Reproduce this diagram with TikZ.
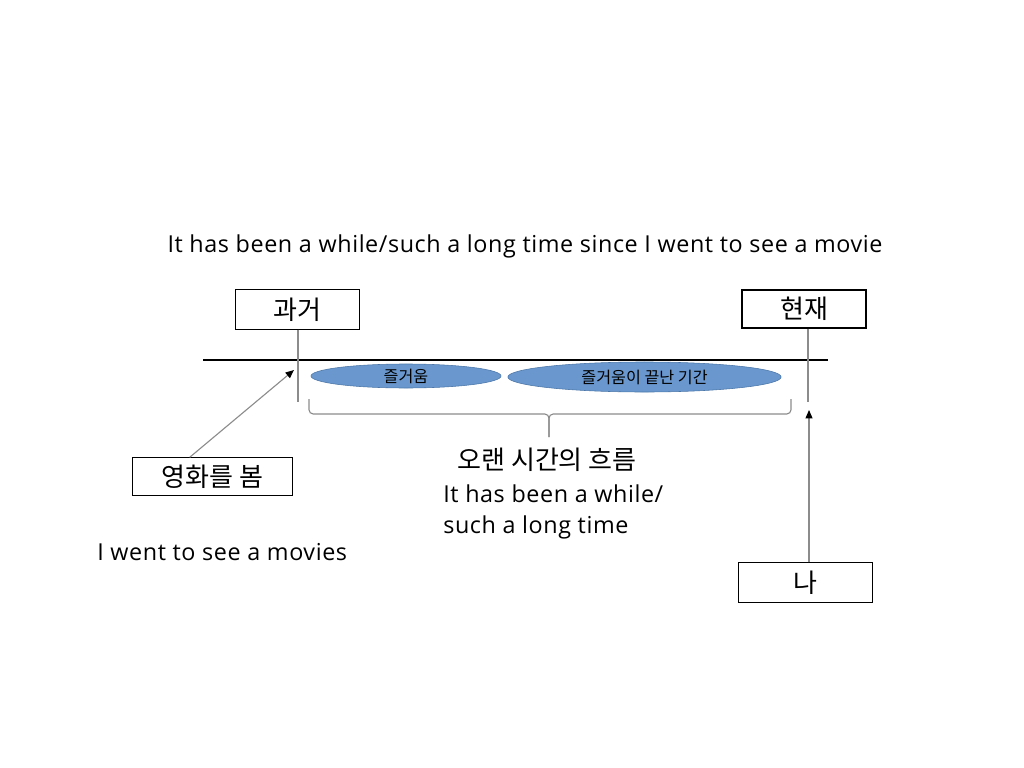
\documentclass[tikz,border=0pt]{standalone}
\usepackage{fontspec}
\setmainfont[LetterSpace=2.5]{Open Sans}
\newfontfamily\kor{Noto Sans CJK KR}
\usetikzlibrary{arrows.meta,shapes.geometric}
\definecolor{blobfill}{HTML}{6A98CE}
\definecolor{blobline}{HTML}{4A76A8}
\definecolor{guide}{HTML}{8C8C8C}
\begin{document}
\begin{tikzpicture}[x=0.025cm,y=-0.025cm,
    box/.style={draw,rectangle,line width=0.8pt,inner sep=0pt,font=\kor\fontsize{18.5}{21}\selectfont},
    blob/.style={draw=blobline,fill=blobfill,ellipse,inner sep=0pt,font=\kor\fontsize{11.5}{13}\selectfont},
    say/.style={inner sep=0pt,font=\fontsize{16.6}{22.7}\selectfont},
    guideline/.style={guide,line width=0.8pt},
    pointer/.style={guide,line width=0.8pt,-{Triangle[length=6pt,width=5pt,fill=black,color=black]}}]
    \useasboundingbox (0,0) rectangle (1024,768);

    % sentence on top
    \node[say] (title) at (525,246) {It has been a while/such a long time since I went to see a movie};

    % past and present
    \node[box,minimum width=3.08cm,minimum height=0.98cm] (past) at (297.5,309.5) {과거};
    \node[box,minimum width=3.1cm,minimum height=0.95cm] (now) at (804,309) {현재};

    % timeline
    \coordinate (tl) at (203,360);
    \coordinate (tr) at (828,360);
    \draw[line width=0.8pt] (tl) -- (tr);
    \coordinate (pastend) at (298,402);
    \coordinate (nowend) at (808,402);
    \draw[guideline] (past.south -| pastend) -- (pastend);
    \draw[guideline] (now.south -| nowend) -- (nowend);

    \node[blob,minimum width=4.75cm,minimum height=0.6cm] (fun) at (406,376) {즐거움};
    \node[blob,minimum width=6.83cm,minimum height=0.75cm] (nofun) at (644.5,377) {즐거움이 끝난 기간};

    % brace under the period
    \coordinate (bl) at (309,399);
    \coordinate (br) at (791,399);
    \coordinate (bbar) at (549,414);
    \coordinate (tip) at (549,437);
    \draw[guideline,rounded corners=3pt] (bl) |- (bbar) -- (tip);
    \draw[guideline,rounded corners=3pt] (br) |- (bbar) -- (tip);

    \node[say,font=\kor\fontsize{18.5}{21}\selectfont] (flow) at (547,460) {오랜 시간의 흐름};
    \node[say,anchor=north west,align=left] (while) at (443,484) {It has been a while/\\such a long time};

    % watching the movie
    \node[box,minimum width=3.98cm,minimum height=0.93cm] (movie) at (212.5,476.5) {영화를 봄};
    \coordinate (went) at (294,370);
    \draw[pointer] (movie.140) -- (went);
    \node[say,anchor=west] (wentsay) at (97,552) {I went to see a movies};

    % me
    \node[box,minimum width=3.33cm,minimum height=0.98cm] (me) at (805.5,582.5) {나};
    \coordinate (meto) at (809,410);
    \draw[pointer] (me.north -| meto) -- (meto);
\end{tikzpicture}
\end{document}
